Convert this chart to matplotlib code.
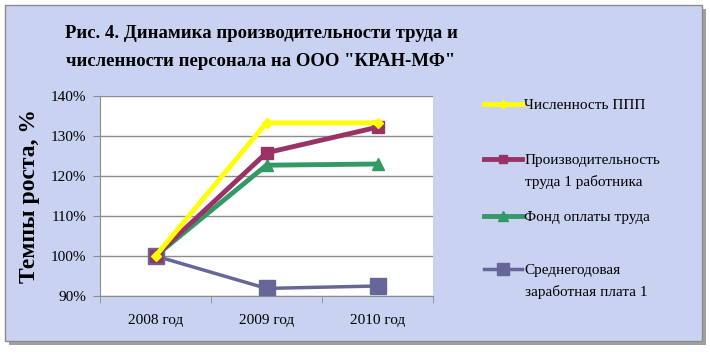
import matplotlib
matplotlib.use("Agg")
import matplotlib.pyplot as plt
from matplotlib.patches import Rectangle

# данные
years = ["2008 год", "2009 год", "2010 год"]
chisl_ppp = [1.00, 1.333, 1.333]
proizv = [1.00, 1.258, 1.322]
fond_ot = [1.00, 1.227, 1.230]
sred_zp = [1.00, 0.919, 0.925]

series_names = ["Численность ППП", "Производительность\nтруда 1 работника",
                "Фонд оплаты труда", "Среднегодовая\nзаработная плата 1"]

plt.rcParams['font.family'] = ['Liberation Serif', 'DejaVu Serif']

W, H = 710, 355
fig = plt.figure(figsize=(W / 100, H / 100), dpi=100, facecolor="white")

# рамка с тенью
fig.patches.append(Rectangle((9 / W, 1 - 345 / H), 697 / W, 336 / H, transform=fig.transFigure,
                             facecolor="#a0a0a0", edgecolor="none", zorder=-3))
fig.patches.append(Rectangle((5 / W, 1 - 341 / H), 697 / W, 336 / H, transform=fig.transFigure,
                             facecolor="#c9d2f0", edgecolor="#8c8c8c", lw=1, zorder=-2))

ax = fig.add_axes([100 / W, 59 / H, 333 / W, 200 / H])
ax.set_facecolor("white")

x = range(len(years))
lines = []
lines += ax.plot(x, chisl_ppp, color="#ffff00", lw=3.5, marker="D", ms=5, zorder=5)
lines += ax.plot(x, proizv, color="#993366", lw=3.5, marker="s", ms=8, zorder=4)
lines += ax.plot(x, fond_ot, color="#339966", lw=3.5, marker="^", ms=9, zorder=3)
lines += ax.plot(x, sred_zp, color="#666699", lw=2.5, marker="s", ms=11, zorder=2)

ax.set_ylim(0.90, 1.40)
ax.set_yticks([0.9, 1.0, 1.1, 1.2, 1.3, 1.4])
ax.set_yticklabels([f"{int(round(v * 100))}%" for v in ax.get_yticks()], fontsize=11)
ax.yaxis.grid(True, color="#8c8c8c", lw=1)
ax.set_axisbelow(True)

ax.set_xlim(-0.5, 2.5)
ax.set_xticks(list(x))
ax.set_xticklabels(years, fontsize=11)
ax.tick_params(axis="x", which="major", length=0, pad=13)
ax.set_xticks([-0.5, 0.5, 1.5, 2.5], minor=True)
ax.tick_params(axis="x", which="minor", length=5, color="#8c8c8c")
ax.tick_params(axis="y", length=5, color="#8c8c8c", pad=5)

for s in ["top", "right"]:
    ax.spines[s].set_visible(False)
for s in ["left", "bottom"]:
    ax.spines[s].set_color("#8c8c8c")

ax.set_ylabel("Темпы роста, %", fontsize=17, fontweight="bold", labelpad=8)

fig.text(261 / W, 1 - 34 / H, "Рис. 4. Динамика производительности труда и",
         ha="center", va="center", fontsize=13.5, fontweight="bold")
fig.text(261 / W, 1 - 62 / H, "численности персонала на ООО \"КРАН-МФ\"",
         ha="center", va="center", fontsize=13.5, fontweight="bold")

# легенда: маркер на уровне первой строки
leg_y = [105, 160, 217, 270]
for ln, name, yy in zip(lines, series_names, leg_y):
    parts = name.split("\n")
    lg = fig.legend(handles=[ln], labels=[parts[0]], loc="center left",
                    bbox_to_anchor=(484 / W, 1 - yy / H), frameon=False,
                    fontsize=11, handlelength=2.5, handletextpad=0.15,
                    borderpad=0, borderaxespad=0, markerscale=0.8)
    for k, extra in enumerate(parts[1:]):
        fig.text(525 / W, 1 - (yy + 22 * (k + 1)) / H, extra, ha="left", va="center", fontsize=11)

fig.savefig("out.png", dpi=100, facecolor="white")
